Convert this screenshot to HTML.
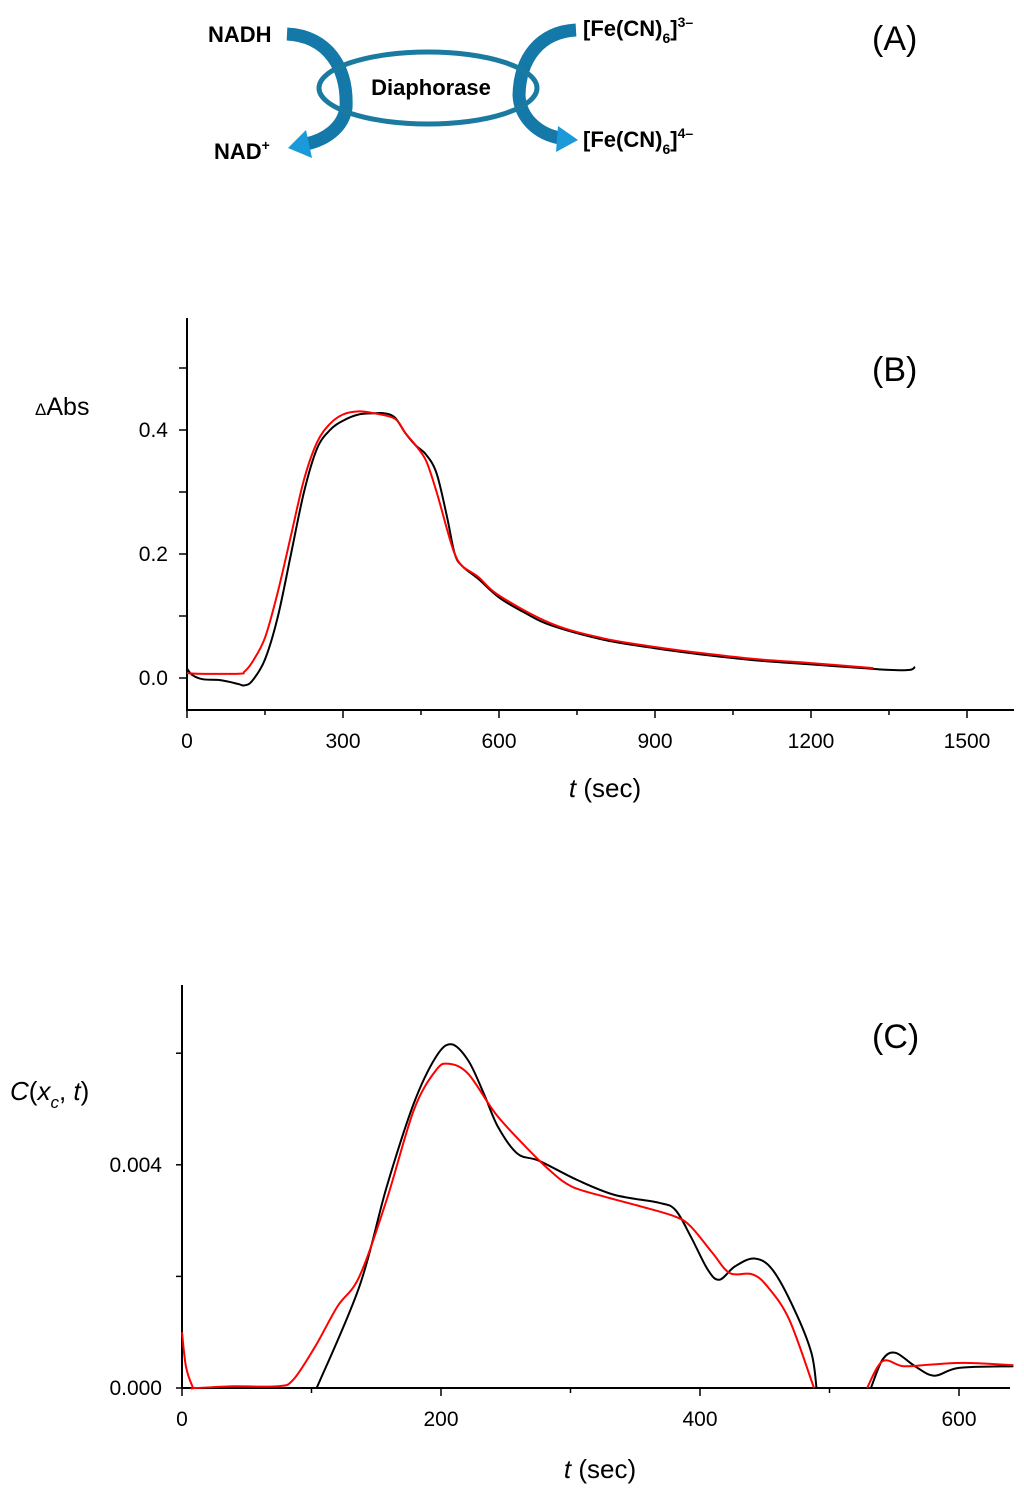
<!DOCTYPE html>
<html><head><meta charset="utf-8"><style>
html,body{margin:0;padding:0;background:#fff;}
svg{display:block;font-family:"Liberation Sans",Arial,sans-serif;}
</style></head><body>
<svg id="fig" width="1024" height="1501" viewBox="0 0 1024 1501" xmlns="http://www.w3.org/2000/svg">
<g>
  <path d="M287,34 C328,36 348,68 346,108 C343,128 325,140 306,144" fill="none" stroke="#1479a8" stroke-width="13"/>
  <polygon points="288,148 306,130 312,158" fill="#1a9ad8"/>
  <path d="M576,30 C540,32 520,58 519,95 C520,118 538,134 560,138" fill="none" stroke="#1479a8" stroke-width="13"/>
  <polygon points="578,140 558,126 556,152" fill="#1a9ad8"/>
  <ellipse cx="428" cy="88" rx="109" ry="36" fill="none" stroke="#1a7aa0" stroke-width="5"/>
  <text x="431" y="95" font-size="22" font-weight="bold" text-anchor="middle">Diaphorase</text>
  <text x="208" y="42" font-size="22" font-weight="bold">NADH</text>
  <text x="214" y="159" font-size="22" font-weight="bold">NAD<tspan font-size="14" dy="-9">+</tspan></text>
  <text x="583" y="36" font-size="22" font-weight="bold">[Fe(CN)<tspan font-size="14" dy="7">6</tspan><tspan dy="-7">]</tspan><tspan font-size="14" dy="-9">3–</tspan></text>
  <text x="583" y="147" font-size="22" font-weight="bold">[Fe(CN)<tspan font-size="14" dy="7">6</tspan><tspan dy="-7">]</tspan><tspan font-size="14" dy="-9">4–</tspan></text>
  <text x="872" y="50" font-size="34">(A)</text>
</g>
<g id="pb"></g>
<g id="pc"></g>
</svg>
<script>
const bBlackT=[0,10,30,60,80,100,110,125,150,175,200,225,250,275,300,330,360,380,400,420,440,460,480,500,515,530,560,600,650,700,800,900,1000,1100,1200,1300,1350,1390,1400];
const bBlackV=[0.015,0.005,-0.002,-0.003,-0.006,-0.01,-0.012,-0.005,0.03,0.1,0.2,0.3,0.37,0.4,0.415,0.425,0.427,0.427,0.42,0.395,0.375,0.36,0.33,0.26,0.2,0.18,0.16,0.13,0.105,0.085,0.062,0.048,0.037,0.028,0.022,0.016,0.013,0.013,0.018];
const bRedT=[0,20,100,110,125,150,175,200,225,250,275,300,330,360,400,420,440,460,480,500,515,530,560,600,700,800,900,1000,1100,1200,1320];
const bRedV=[0.008,0.007,0.007,0.01,0.025,0.065,0.14,0.23,0.32,0.38,0.41,0.425,0.43,0.427,0.418,0.395,0.375,0.35,0.3,0.24,0.2,0.18,0.163,0.133,0.088,0.064,0.05,0.039,0.03,0.024,0.016];
const bXTicks=[0,300,600,900,1200,1500];
const bYTicks=["0.0","0.2","0.4"];

const cBlackT1=[104,137,158,179,196,208,221,233,244,259,276,305,334,368,381,393,406,415,427,442,456,473,486,490];
const cBlackV1=[0,0.00182,0.0036,0.0051,0.00593,0.00616,0.00587,0.00528,0.00468,0.0042,0.00407,0.00373,0.00346,0.00332,0.00319,0.00271,0.00212,0.00194,0.00218,0.00232,0.00212,0.0014,0.00063,0];
const cBlackT2=[532,541,551,566,581,600,642];
const cBlackV2=[0,0.00051,0.00063,0.00039,0.00022,0.00036,0.00039];
const cRedT1=[0,3,8,10,40,74,86,103,120,137,158,179,196,206,221,242,263,284,301,326,355,381,393,410,423,440,452,469,488];
const cRedV1=[0.001,0.00039,0.00003,0,0.00003,0.00003,0.00015,0.00075,0.00146,0.002,0.00337,0.00498,0.00569,0.00581,0.00563,0.00492,0.00438,0.0039,0.00361,0.00343,0.00325,0.00307,0.00289,0.00241,0.00206,0.00204,0.00182,0.00122,0];
const cRedT2=[529,541,557,578,604,642];
const cRedV2=[0,0.00048,0.00039,0.00042,0.00045,0.00041];
const cXTicks=[0,200,400,600];
const cYTicks=["0.000","0.004"];

const NS="http://www.w3.org/2000/svg";
function mk(parent,tag,attrs,txt){const e=document.createElementNS(NS,tag);for(const k in attrs)e.setAttribute(k,attrs[k]);if(txt!==undefined)e.textContent=txt;parent.appendChild(e);return e;}
function smooth(pts){let d="M"+pts[0][0].toFixed(1)+","+pts[0][1].toFixed(1);for(let i=0;i<pts.length-1;i++){const p0=pts[Math.max(0,i-1)],p1=pts[i],p2=pts[i+1],p3=pts[Math.min(pts.length-1,i+2)];const c1=[p1[0]+(p2[0]-p0[0])/6,p1[1]+(p2[1]-p0[1])/6],c2=[p2[0]-(p3[0]-p1[0])/6,p2[1]-(p3[1]-p1[1])/6];d+=" C"+c1[0].toFixed(1)+","+c1[1].toFixed(1)+" "+c2[0].toFixed(1)+","+c2[1].toFixed(1)+" "+p2[0].toFixed(1)+","+p2[1].toFixed(1);}return d;}

// Panel B
(function(){
const g=document.getElementById('pb');
const xs=t=>187+t*0.52, ys=v=>678-v*620;
let e;
e=mk(g,'line',{x1:187,y1:318,x2:187,y2:710,stroke:'#000','stroke-width':2});


e=mk(g,'line',{x1:186,y1:710,x2:1014,y2:710,stroke:'#000','stroke-width':2});


for(let t=0;t<=1575;t+=150){const maj=t%300===0;e=mk(g,'line',{x1:xs(t),y1:710,x2:xs(t),y2:maj?718:715,stroke:'#000','stroke-width':1.5});

}
bXTicks.forEach(t=>{e=mk(g,'text',{x:xs(t),y:748,'font-size':21,'text-anchor':'middle'},String(t));

});
for(let k=0;k<=5;k++){const v=k*0.1;e=mk(g,'line',{x1:187,y1:ys(v),x2:179,y2:ys(v),stroke:'#000','stroke-width':1.5});

}
bYTicks.forEach(s=>{e=mk(g,'text',{x:168,y:ys(parseFloat(s))+7,'font-size':21,'text-anchor':'end'},s);

});
e=mk(g,'text',{x:35,y:415,'font-size':25},'');
e.innerHTML='<tspan font-size="17">Δ</tspan>Abs';


e=mk(g,'text',{x:605,y:797,'font-size':26,'text-anchor':'middle'},'');
e.innerHTML='<tspan font-style="italic">t</tspan> (sec)';


e=mk(g,'text',{x:872,y:381,'font-size':34},'(B)');


e=mk(g,'path',{d:smooth(bBlackT.map((t,i)=>[xs(t),ys(bBlackV[i])])),fill:'none',stroke:'#000','stroke-width':2});


e=mk(g,'path',{d:smooth(bRedT.map((t,i)=>[xs(t),ys(bRedV[i])])),fill:'none',stroke:'#f00','stroke-width':2});


})();

// Panel C
(function(){
const g=document.getElementById('pc');
const xs=t=>182+t*1.295, ys=v=>1388-v*55800;
let e;
e=mk(g,'line',{x1:182,y1:985,x2:182,y2:1389,stroke:'#000','stroke-width':2});


e=mk(g,'line',{x1:181,y1:1388,x2:1010,y2:1388,stroke:'#000','stroke-width':2});


for(let t=0;t<=600;t+=100){const maj=t%200===0;e=mk(g,'line',{x1:xs(t),y1:1388,x2:xs(t),y2:maj?1396:1393,stroke:'#000','stroke-width':1.5});

}
cXTicks.forEach(t=>{e=mk(g,'text',{x:xs(t),y:1426,'font-size':21,'text-anchor':'middle'},String(t));

});
for(let k=0;k<=3;k++){const v=k*0.002;e=mk(g,'line',{x1:182,y1:ys(v),x2:176,y2:ys(v),stroke:'#000','stroke-width':1.5});

}
cYTicks.forEach(s=>{e=mk(g,'text',{x:162,y:ys(parseFloat(s))+7,'font-size':21,'text-anchor':'end'},s);

});
e=mk(g,'text',{x:10,y:1100,'font-size':26},'');
e.innerHTML='<tspan font-style="italic">C</tspan>(<tspan font-style="italic">x</tspan><tspan font-size="17" font-style="italic" dy="8">c</tspan><tspan dy="-8">, </tspan><tspan font-style="italic">t</tspan>)';


e=mk(g,'text',{x:600,y:1478,'font-size':26,'text-anchor':'middle'},'');
e.innerHTML='<tspan font-style="italic">t</tspan> (sec)';


e=mk(g,'text',{x:872,y:1048,'font-size':34},'(C)');


[[cBlackT1,cBlackV1,'#000','c-measured-line'],[cBlackT2,cBlackV2,'#000','c-measured-line-tail'],[cRedT1,cRedV1,'#f00','c-fit-line'],[cRedT2,cRedV2,'#f00','c-fit-line-tail']].forEach(s=>{
e=mk(g,'path',{d:smooth(s[0].map((t,i)=>[xs(t),ys(s[1][i])])),fill:'none',stroke:s[2],'stroke-width':2});


});
})();
</script>
</body></html>
